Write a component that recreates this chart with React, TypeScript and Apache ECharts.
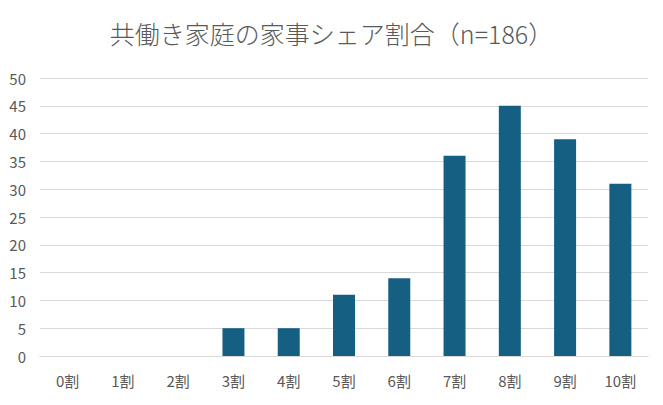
import React, { useEffect, useRef } from "react";
import * as echarts from "echarts";

const categories = ["0割", "1割", "2割", "3割", "4割", "5割", "6割", "7割", "8割", "9割", "10割"];
const counts = [0, 0, 0, 5, 5, 11, 14, 36, 45, 39, 31];
const titleText = "共働き家庭の家事シェア割合（n=186）";

export default function App() {
  const ref = useRef<HTMLDivElement>(null);
  useEffect(() => {
    if (!ref.current) return;
    const chart = echarts.init(ref.current, undefined, { renderer: "svg" });
    const font = "'Noto Sans CJK JP', 'Noto Sans', sans-serif";
    chart.setOption({
      animation: false,
      backgroundColor: "#ffffff",
      title: {
        text: titleText,
        left: "center",
        top: 15,
        textStyle: { fontFamily: font, fontSize: 25, fontWeight: 300, color: "#595959" },
      },
      grid: { left: 40, right: 15, top: 78, bottom: 49, containLabel: false },
      xAxis: {
        type: "category",
        data: categories,
        axisLine: { show: true, lineStyle: { color: "#d9d9d9", width: 1 } },
        axisTick: { show: false },
        axisLabel: { fontFamily: font, fontSize: 15, color: "#595959", margin: 17 },
      },
      yAxis: {
        type: "value",
        min: 0,
        max: 50,
        interval: 5,
        axisLine: { show: false },
        axisTick: { show: false },
        splitLine: { lineStyle: { color: "#d9d9d9", width: 1 } },
        axisLabel: { fontFamily: font, fontSize: 15, color: "#595959", margin: 14 },
      },
      series: [
        {
          type: "bar",
          data: counts,
          barWidth: 22,
          itemStyle: { color: "#156082" },
        },
      ],
    });
    return () => chart.dispose();
  }, []);
  return (
    <div
      ref={ref}
      style={{ position: "fixed", left: 0, top: 0, width: 663, height: 405 }}
    />
  );
}
